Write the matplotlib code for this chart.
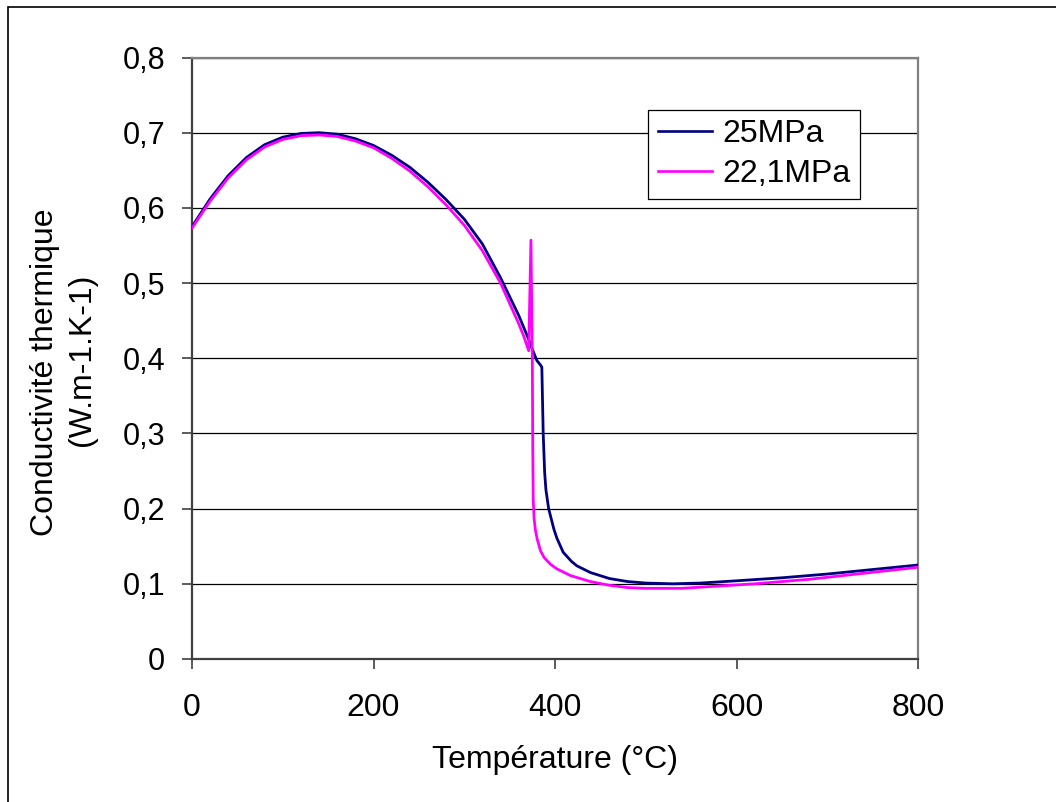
import matplotlib
matplotlib.use("Agg")
import matplotlib.pyplot as plt
from matplotlib.patches import Rectangle

plt.rcParams['font.family'] = ['Liberation Sans', 'DejaVu Sans']

# ---- data ----
t_25 = [0, 20, 40, 60, 80, 100, 120, 140, 160, 180, 200, 220, 240, 260, 280,
        300, 320, 340, 360, 370, 375, 380, 384, 385.5, 387, 388.6, 390, 393,
        398.7, 402, 409, 418, 424, 439, 460, 480, 500, 530, 560, 600, 650, 700,
        750, 800]
k_25 = [0.575, 0.612, 0.643, 0.667, 0.684, 0.694, 0.699, 0.700, 0.698, 0.692,
        0.683, 0.670, 0.654, 0.634, 0.611, 0.585, 0.552, 0.507, 0.457, 0.428,
        0.412, 0.397, 0.391, 0.388, 0.300, 0.248, 0.225, 0.200, 0.173, 0.161,
        0.142, 0.130, 0.124, 0.115, 0.107, 0.103, 0.101, 0.100, 0.101, 0.104,
        0.108, 0.113, 0.119, 0.125]

t_221 = [0, 20, 40, 60, 80, 100, 120, 140, 160, 180, 200, 220, 240, 260, 280,
         300, 320, 340, 360, 366, 371, 373.5, 375, 375.5, 376, 377, 378.5,
         380.5, 384, 388, 395, 402, 417, 439, 460, 480, 500, 540, 580, 620,
         680, 740, 800]
k_221 = [0.573, 0.609, 0.640, 0.664, 0.681, 0.691, 0.696, 0.697, 0.695, 0.689,
         0.680, 0.666, 0.649, 0.628, 0.604, 0.577, 0.543, 0.500, 0.446, 0.428,
         0.410, 0.557, 0.400, 0.280, 0.212, 0.186, 0.171, 0.159, 0.144, 0.135,
         0.126, 0.120, 0.111, 0.103, 0.098, 0.095, 0.094, 0.094, 0.097, 0.100,
         0.106, 0.114, 0.122]

x_ticks = [0, 200, 400, 600, 800]
y_ticks = [0, 0.1, 0.2, 0.3, 0.4, 0.5, 0.6, 0.7, 0.8]
y_tick_labels = ["0", "0,1", "0,2", "0,3", "0,4", "0,5", "0,6", "0,7", "0,8"]
labels = ["25MPa", "22,1MPa"]
xlabel = "Température (°C)"
ylabel1 = "Conductivité thermique"
ylabel2 = "(W.m-1.K-1)"

W, H = 1056, 802
fig = plt.figure(figsize=(W / 100, H / 100), dpi=100)
ax = fig.add_axes([192 / W, 1 - 659 / H, (918 - 192) / W, (659 - 57.5) / H])

ax.plot(t_25, k_25, color='#000080', lw=2.0, label=labels[0], zorder=3)
ax.plot(t_221, k_221, color='#FF00FF', lw=2.0, label=labels[1], zorder=3)

ax.set_xlim(0, 800)
ax.set_ylim(0, 0.8)
ax.set_xticks(x_ticks)
ax.set_xticklabels([str(v) for v in x_ticks])
ax.set_yticks(y_ticks)
ax.set_yticklabels(y_tick_labels)
ax.yaxis.grid(True, color='black', lw=0.9)
ax.set_axisbelow(True)

for s in ['left', 'bottom']:
    ax.spines[s].set_color('#404040')
    ax.spines[s].set_linewidth(1.6)
for s in ['top', 'right']:
    ax.spines[s].set_color('#808080')
    ax.spines[s].set_linewidth(1.6)

ax.tick_params(axis='x', direction='out', length=7.2, width=1.2, color='#404040',
               pad=17, labelsize=23)
ax.tick_params(axis='y', direction='out', length=7.2, width=1.2, color='#404040',
               pad=12, labelsize=22)

leg = ax.legend(loc='upper left', bbox_to_anchor=(0.628, 0.913), fontsize=23,
                frameon=True, fancybox=False, shadow=False, edgecolor='black',
                framealpha=1, handlelength=1.72, handletextpad=0.3,
                borderpad=0.3, labelspacing=0.3, borderaxespad=0)
leg.get_frame().set_linewidth(0.9)
for ln in leg.get_lines():
    ln.set_linewidth(1.9)

fig.text(555 / W, 1 - 768.3 / H, xlabel, fontsize=23, ha='center', va='baseline')
fig.text(53 / W, 1 - 372 / H, ylabel1, fontsize=23, rotation=90,
         rotation_mode='anchor', ha='center', va='baseline')
fig.text(90 / W, 1 - 360 / H, ylabel2, fontsize=23, rotation=90,
         rotation_mode='anchor', ha='center', va='baseline')

fig.patches.append(Rectangle((8 / W, -0.05), 1.1, (1 - 7 / H) + 0.05,
                             transform=fig.transFigure, fill=False,
                             edgecolor='black', lw=1.2))

fig.savefig('out.png', dpi=100)
